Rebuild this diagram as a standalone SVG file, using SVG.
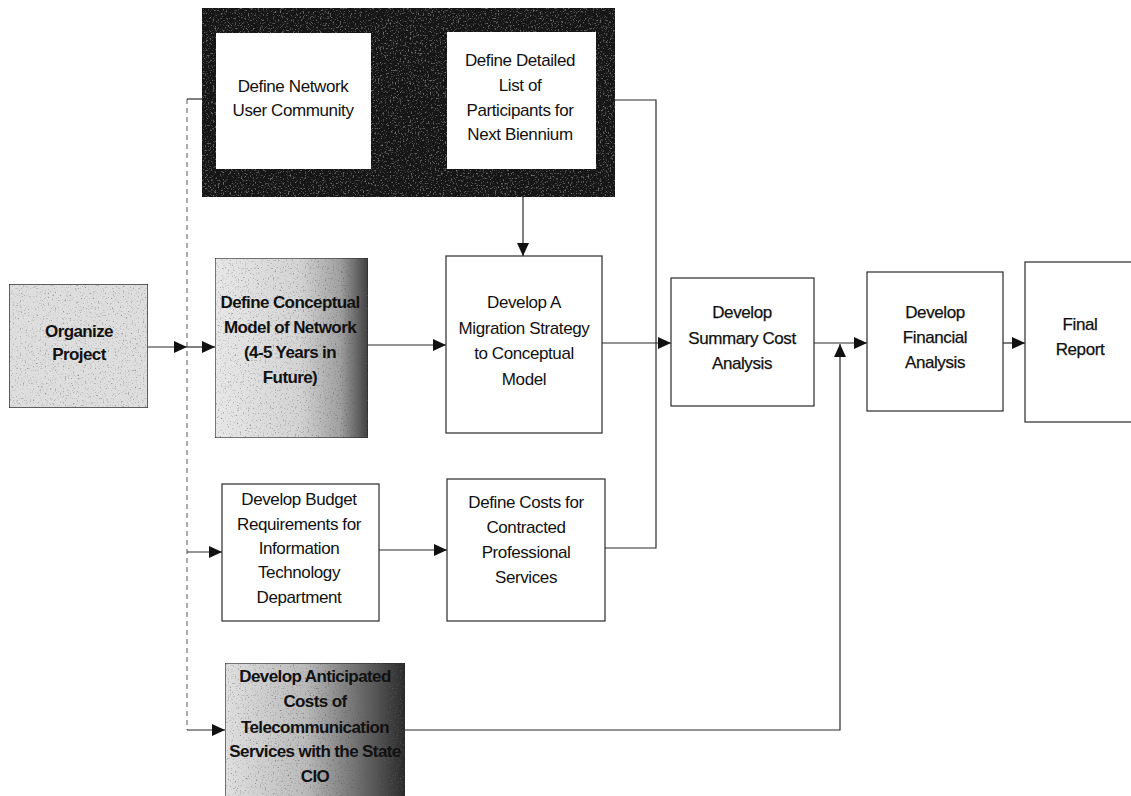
<svg xmlns="http://www.w3.org/2000/svg" width="1131" height="796" viewBox="0 0 1131 796">
  <defs>
    <style>
      .box { fill: #ffffff; stroke: #2a2a2a; stroke-width: 1.2; }
      .lbl { font-family: "Liberation Sans", Arial, sans-serif; font-size: 17px; letter-spacing: -0.4px; fill: #111; text-anchor: middle; }
      .heavy { stroke: #111; stroke-width: 0.25; }
      .bold { font-weight: bold; letter-spacing: -0.6px; }
      .wire { fill: none; stroke: #2a2a2a; stroke-width: 1.2; }
      .faint { fill: none; stroke: #666; stroke-width: 1.1; stroke-dasharray: 5 4; }
    </style>
    <marker id="arrow" markerUnits="userSpaceOnUse" markerWidth="14" markerHeight="12" refX="13" refY="6" orient="auto">
      <path d="M0,0 L13,6 L0,12 z" fill="#111"/>
    </marker>
    <linearGradient id="shadeA" x1="0" y1="0" x2="1" y2="0">
      <stop offset="0" stop-color="#e8e8e8"/>
      <stop offset="0.55" stop-color="#d4d4d4"/>
      <stop offset="0.82" stop-color="#a0a0a0"/>
      <stop offset="1" stop-color="#404040"/>
    </linearGradient>
    <linearGradient id="shadeB" x1="0" y1="0" x2="1" y2="0">
      <stop offset="0" stop-color="#e0e0e0"/>
      <stop offset="0.45" stop-color="#bababa"/>
      <stop offset="0.78" stop-color="#646464"/>
      <stop offset="1" stop-color="#2a2a2a"/>
    </linearGradient>
    <!-- sparse dark speckle for the shaded boxes -->
    <filter id="grain" x="0" y="0" width="100%" height="100%">
      <feTurbulence type="fractalNoise" baseFrequency="0.6" numOctaves="2" seed="4" result="noise"/>
      <feColorMatrix in="noise" type="matrix" values="0 0 0 0 0.1  0 0 0 0 0.1  0 0 0 0 0.1  2.6 0 0 0 -1.5" result="speck"/>
      <feComposite in="speck" in2="SourceGraphic" operator="atop"/>
    </filter>
    <!-- sparse light speckle for the dark frame -->
    <filter id="grainLight" x="0" y="0" width="100%" height="100%">
      <feTurbulence type="fractalNoise" baseFrequency="0.6" numOctaves="2" seed="9" result="noise"/>
      <feColorMatrix in="noise" type="matrix" values="0 0 0 0 0.3  0 0 0 0 0.3  0 0 0 0 0.3  2.4 0 0 0 -1.4" result="speck"/>
      <feComposite in="speck" in2="SourceGraphic" operator="atop"/>
    </filter>
  </defs>

  <rect x="0" y="0" width="1131" height="796" fill="#ffffff"/>

  <!-- connectors -->
  <g id="connectors">
    <!-- left distribution spine -->
    <path class="faint" d="M187,99 L187,730"/>
    <path class="wire" d="M187,99 L203,99"/>
    <path class="wire" d="M148,347 L187,347" marker-end="url(#arrow)"/>
    <path class="wire" d="M187,347 L215,347" marker-end="url(#arrow)"/>
    <path class="wire" d="M187,552 L222,552" marker-end="url(#arrow)"/>
    <path class="wire" d="M187,730 L225,730" marker-end="url(#arrow)"/>
    <!-- middle column -->
    <path class="wire" d="M523,197 L523,256" marker-end="url(#arrow)"/>
    <path class="wire" d="M368,345 L446,345" marker-end="url(#arrow)"/>
    <path class="wire" d="M379,550 L447,550" marker-end="url(#arrow)"/>
    <!-- collector into summary -->
    <path class="wire" d="M615,100 L656,100 L656,548 L605,548"/>
    <path class="wire" d="M602,343 L671,343" marker-end="url(#arrow)"/>
    <!-- right chain -->
    <path class="wire" d="M814,343 L867,343" marker-end="url(#arrow)"/>
    <path class="wire" d="M405,730 L840,730 L840,344" marker-end="url(#arrow)"/>
    <path class="wire" d="M1003,343 L1025,343" marker-end="url(#arrow)"/>
  </g>

  <g id="organize-project">
    <rect x="9" y="284" width="139" height="124" fill="#dedede" stroke="#2a2a2a" stroke-width="1.4" filter="url(#grain)"/>
    <text class="lbl bold" x="79" y="337">Organize</text>
    <text class="lbl bold" x="79" y="360">Project</text>
  </g>

  <g id="participants-group">
    <rect x="202" y="8" width="413" height="189" fill="#161616" filter="url(#grainLight)"/>
    <g id="define-user-community">
      <rect x="216" y="33" width="155" height="136" fill="#ffffff"/>
      <text class="lbl" x="293" y="92">Define Network</text>
      <text class="lbl" x="293" y="116">User Community</text>
    </g>
    <g id="define-participants">
      <rect x="447" y="32" width="149" height="137" fill="#ffffff"/>
      <text class="lbl" x="520" y="66">Define Detailed</text>
      <text class="lbl" x="520" y="91">List of</text>
      <text class="lbl" x="520" y="116">Participants for</text>
      <text class="lbl" x="520" y="140">Next Biennium</text>
    </g>
  </g>

  <g id="conceptual-model">
    <rect x="215" y="258" width="153" height="180" fill="url(#shadeA)" stroke="#2a2a2a" stroke-width="1.2" filter="url(#grain)"/>
    <text class="lbl bold" x="290" y="308">Define Conceptual</text>
    <text class="lbl bold" x="290" y="333">Model of Network</text>
    <text class="lbl bold" x="290" y="358">(4-5 Years in</text>
    <text class="lbl bold" x="290" y="383">Future)</text>
  </g>

  <g id="migration-strategy">
    <rect class="box" x="446" y="256" width="156" height="177"/>
    <text class="lbl" x="524" y="308">Develop A</text>
    <text class="lbl" x="524" y="334">Migration Strategy</text>
    <text class="lbl" x="524" y="359">to Conceptual</text>
    <text class="lbl" x="524" y="385">Model</text>
  </g>

  <g id="summary-cost">
    <rect class="box" x="671" y="278" width="143" height="128"/>
    <text class="lbl heavy" x="742" y="318">Develop</text>
    <text class="lbl heavy" x="742" y="344">Summary Cost</text>
    <text class="lbl heavy" x="742" y="369">Analysis</text>
  </g>

  <g id="financial-analysis">
    <rect class="box" x="867" y="272" width="136" height="139"/>
    <text class="lbl heavy" x="935" y="318">Develop</text>
    <text class="lbl heavy" x="935" y="343">Financial</text>
    <text class="lbl heavy" x="935" y="368">Analysis</text>
  </g>

  <g id="final-report">
    <rect class="box" x="1025" y="262" width="112" height="160"/>
    <text class="lbl heavy" x="1080" y="330">Final</text>
    <text class="lbl heavy" x="1080" y="355">Report</text>
  </g>

  <g id="budget-requirements">
    <rect class="box" x="222" y="484" width="157" height="137"/>
    <text class="lbl" x="299" y="505">Develop Budget</text>
    <text class="lbl" x="299" y="530">Requirements for</text>
    <text class="lbl" x="299" y="554">Information</text>
    <text class="lbl" x="299" y="578">Technology</text>
    <text class="lbl" x="299" y="603">Department</text>
  </g>

  <g id="contracted-costs">
    <rect class="box" x="447" y="479" width="158" height="142"/>
    <text class="lbl" x="526" y="508">Define Costs for</text>
    <text class="lbl" x="526" y="533">Contracted</text>
    <text class="lbl" x="526" y="558">Professional</text>
    <text class="lbl" x="526" y="583">Services</text>
  </g>

  <g id="telecom-costs">
    <rect x="225" y="663" width="180" height="140" fill="url(#shadeB)" stroke="#2a2a2a" stroke-width="1.2" filter="url(#grain)"/>
    <text class="lbl bold" x="315" y="682">Develop Anticipated</text>
    <text class="lbl bold" x="315" y="707">Costs of</text>
    <text class="lbl bold" x="315" y="733">Telecommunication</text>
    <text class="lbl bold" x="315" y="757">Services with the State</text>
    <text class="lbl bold" x="315" y="782">CIO</text>
  </g>
</svg>
